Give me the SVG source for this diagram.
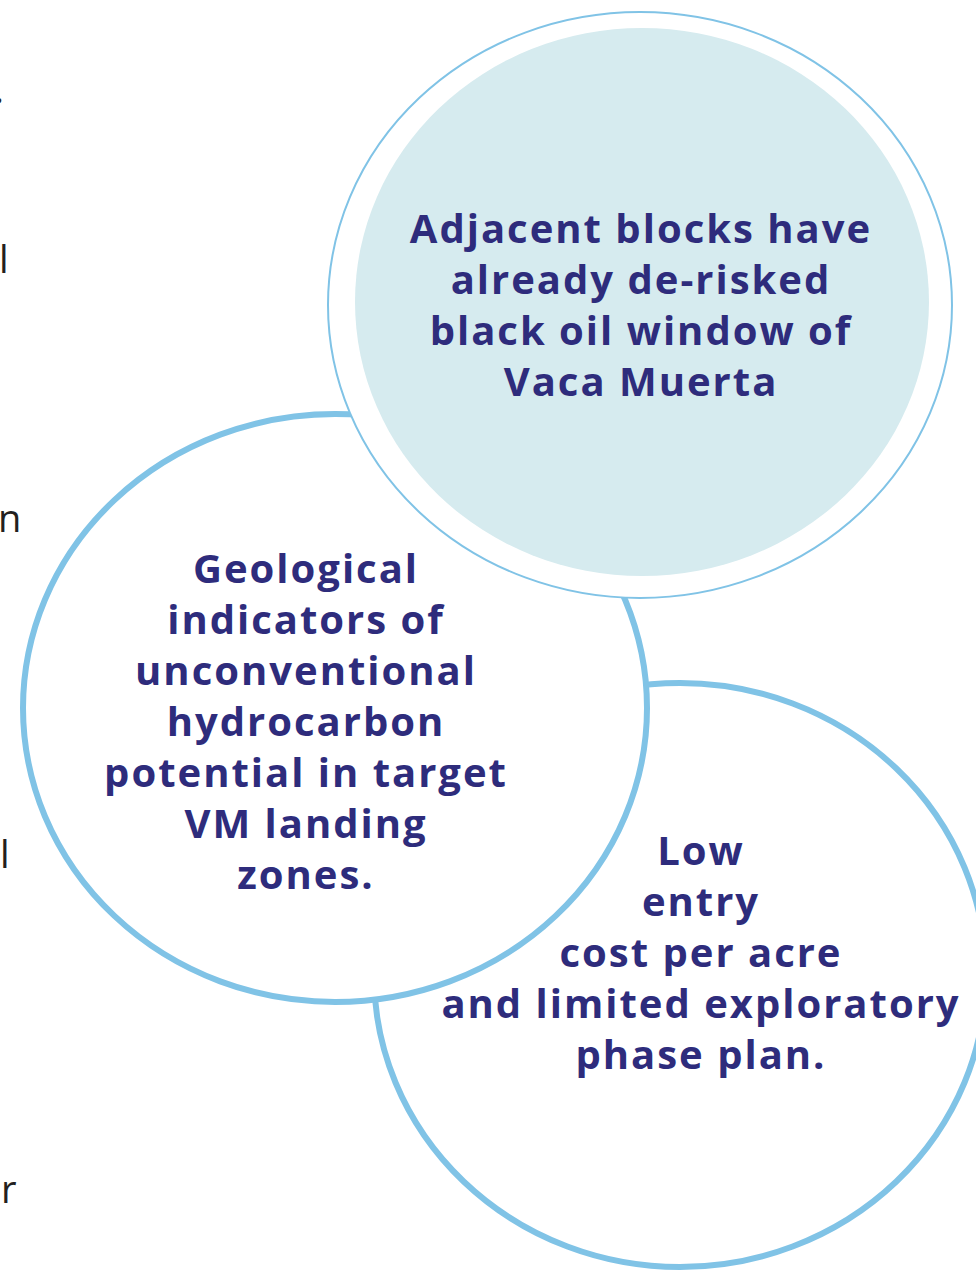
<svg xmlns="http://www.w3.org/2000/svg" width="976" height="1271" viewBox="0 0 976 1271">
<style>
.ring{fill:#ffffff;stroke:#80c3e6;stroke-width:6}
.thin{fill:#ffffff;stroke:#80c3e6;stroke-width:2}
.inner{fill:#d6ebef;stroke:none}
.lbl{font-family:"Open Sans","Liberation Sans",sans-serif;font-weight:700;font-size:40px;letter-spacing:2px;fill:#2e2c7c;text-anchor:middle}
.edge{font-family:"Open Sans","Liberation Sans",sans-serif;font-weight:400;font-size:38px;fill:#231f20}
</style>
<rect width="976" height="1271" fill="#ffffff"/>
<g id="edge-text">
<text class="edge" x="-6" y="103">.</text>
<text class="edge" x="-1" y="273">l</text>
<text class="edge" x="-2" y="532">n</text>
<text class="edge" x="0" y="868">l</text>
<text class="edge" x="1" y="1203">r</text>
</g>
<g id="node-cost">
<ellipse class="ring" cx="680" cy="975" rx="306" ry="292"/>
<text class="lbl" x="701" y="865">Low</text>
<text class="lbl" x="701" y="916">entry</text>
<text class="lbl" x="701" y="967">cost per acre</text>
<text class="lbl" x="701" y="1018">and limited exploratory</text>
<text class="lbl" x="701" y="1069">phase plan.</text>
</g>
<g id="node-geology">
<ellipse class="ring" cx="335" cy="708" rx="312" ry="294"/>
<text class="lbl" x="306" y="583">Geological</text>
<text class="lbl" x="306" y="634">indicators of</text>
<text class="lbl" x="306" y="685">unconventional</text>
<text class="lbl" x="306" y="736">hydrocarbon</text>
<text class="lbl" x="306" y="787">potential in target</text>
<text class="lbl" x="306" y="838">VM landing</text>
<text class="lbl" x="306" y="889">zones.</text>
</g>
<g id="node-adjacent">
<ellipse class="thin" cx="640" cy="305" rx="312" ry="293"/>
<ellipse class="inner" cx="642" cy="302" rx="287" ry="274"/>
<text class="lbl" x="641" y="243">Adjacent blocks have</text>
<text class="lbl" x="641" y="294">already de-risked</text>
<text class="lbl" x="641" y="345">black oil window of</text>
<text class="lbl" x="641" y="396">Vaca Muerta</text>
</g>
<g id="connectors"></g>
</svg>
